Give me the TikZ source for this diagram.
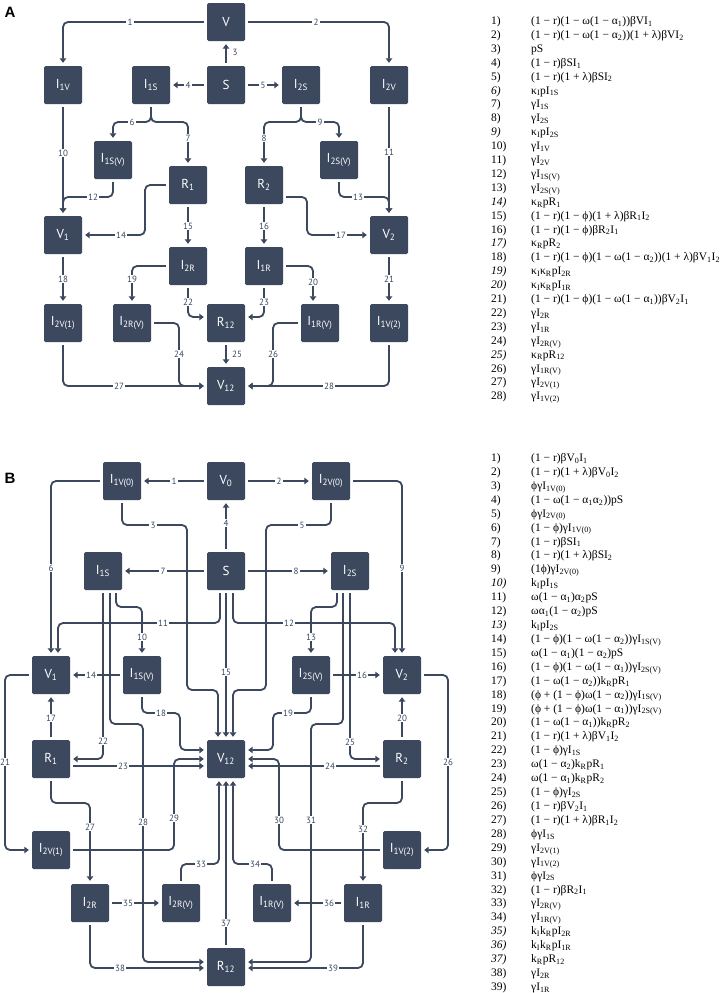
\documentclass[tikz,border=0pt]{standalone}
\usepackage{fontspec}
\setmainfont{Liberation Serif}
\newfontfamily\boxfont{PT Sans}
\newfontfamily\panelfont{Liberation Sans}
\usetikzlibrary{arrows.meta}
\definecolor{boxc}{RGB}{60,72,94}
\newcommand\dn[1]{\textsubscript{#1}}

\begin{document}
\begin{tikzpicture}[x=1pt,y=-1pt,
  box/.style={fill=boxc,text=white,minimum size=38pt,inner sep=0pt,rounded corners=1.5pt,font=\boxfont\fontsize{13}{15}\selectfont},
  flow/.style={draw=boxc,line width=1.8pt,rounded corners=5pt,shorten <=3pt,shorten >=3pt,-{Triangle[length=4.5pt,width=6.5pt]}},
  num/.style={fill=white,text=boxc,inner sep=1.2pt,font=\boxfont\fontsize{9}{10}\selectfont},
  row/.style={anchor=west,inner sep=0pt,text height=7pt,text depth=2pt,font=\fontsize{11.5}{13}\selectfont},
  panel/.style={font=\panelfont\bfseries\fontsize{15}{17}\selectfont}]
\useasboundingbox (0,0) rectangle (726,993);

\node[panel] (pA) at (10,12) {A};
\node[box] (V) at (226,22) {V};
\node[box] (I1V) at (63,85) {I\dn{1V}};
\node[box] (I1S) at (151,85) {I\dn{1S}};
\node[box] (S) at (226,85) {S};
\node[box] (I2S) at (301,85) {I\dn{2S}};
\node[box] (I2V) at (389,85) {I\dn{2V}};
\node[box] (I1SV) at (113,160) {I\dn{1S(V)}};
\node[box] (R1) at (188,185) {R\dn{1}};
\node[box] (R2) at (264,185) {R\dn{2}};
\node[box] (I2SV) at (339,160) {I\dn{2S(V)}};
\node[box] (V1) at (63,235) {V\dn{1}};
\node[box] (V2) at (389,235) {V\dn{2}};
\node[box] (I2R) at (188,266) {I\dn{2R}};
\node[box] (I1R) at (264,266) {I\dn{1R}};
\node[box] (I2V1) at (63,323) {I\dn{2V(1)}};
\node[box] (I2RV) at (132,323) {I\dn{2R(V)}};
\node[box] (R12) at (226,323) {R\dn{12}};
\node[box] (I1RV) at (320,323) {I\dn{1R(V)}};
\node[box] (I1V2) at (389,323) {I\dn{1V(2)}};
\node[box] (V12) at (226,386) {V\dn{12}};

\draw[flow] (V.west) -| (I1V.north);
\draw[flow] (V.east) -| (I2V.north);
\draw[flow] (S.north) -- (V.south);
\draw[flow] (S.west) -- (I1S.east);
\draw[flow] (S.east) -- (I2S.west);
\draw[flow] (I1S.south) |- (132,122) -| (I1SV.north);
\draw[flow] (I1S.south) |- (170,122) -| (R1.north);
\draw[flow] (I2S.south) |- (282,122) -| (R2.north);
\draw[flow] (I2S.south) |- (320,122) -| (I2SV.north);
\draw[flow] (I1V.south) -- (V1.north);
\draw[flow] (I2V.south) -- (V2.north);
\draw[flow] (I1SV.south) |- (90,197) -| (V1.north);
\draw[flow] (I2SV.south) |- (365,197) -| (V2.north);
\draw[flow] (R1.west) -| (145,235) -- (V1.east);
\draw[flow] (R1.south) -- (I2R.north);
\draw[flow] (R2.south) -- (I1R.north);
\draw[flow] ([yshift=-12pt]R2.east) -| (307,235) -- (V2.west);
\draw[flow] (V1.south) -- (I2V1.north);
\draw[flow] (I2R.west) -| (I2RV.north);
\draw[flow] (I1R.east) -| ([xshift=-7pt]I1RV.north);
\draw[flow] (V2.south) -- (I1V2.north);
\draw[flow] (I2R.south) |- ([yshift=6pt]R12.west);
\draw[flow] (I1R.south) |- ([yshift=6pt]R12.east);
\draw[flow] (I2RV.east) -| (179,386) -- (V12.west);
\draw[flow] (R12.south) -- (V12.north);
\draw[flow] (I1RV.west) -| (273,386) -- (V12.east);
\draw[flow] (I2V1.south) |- (V12.west);
\draw[flow] (I1V2.south) |- (V12.east);

\foreach \n/\x/\y in {1/130/22,2/316/22,4/188/85,5/263/85,6/132/122,7/188/138,8/264/138,9/320/122,
  10/63/153,11/389/152,12/93/197,13/358/197,14/121/235,15/188/226,16/264/226,17/341/235,18/63/279,
  19/132/279,20/313/282,21/389/279,22/188/302,23/264/302,24/179/354,26/273/354,27/119/386,28/329/386}
  \node[num] (la\n) at (\x,\y) {\n};
\node[num] (la3) at (235,52) {3};
\node[num] (la25) at (237,354) {25};

\node[panel] (pB) at (10,478) {B};
\node[box] (V0) at (226,481) {V\dn{0}};
\node[box] (I1V0) at (122,481) {I\dn{1V(0)}};
\node[box] (I2V0) at (331,481) {I\dn{2V(0)}};
\node[box] (I1Sb) at (103,571) {I\dn{1S}};
\node[box] (Sb) at (226,571) {S};
\node[box] (I2Sb) at (350,571) {I\dn{2S}};
\node[box] (V1b) at (51,675) {V\dn{1}};
\node[box] (I1SVb) at (142,675) {I\dn{1S(V)}};
\node[box] (I2SVb) at (311,675) {I\dn{2S(V)}};
\node[box] (V2b) at (402,675) {V\dn{2}};
\node[box] (R1b) at (51,759) {R\dn{1}};
\node[box] (V12b) at (226,759) {V\dn{12}};
\node[box] (R2b) at (402,759) {R\dn{2}};
\node[box] (I2V1b) at (51,850) {I\dn{2V(1)}};
\node[box] (I1V2b) at (402,850) {I\dn{1V(2)}};
\node[box] (I2Rb) at (90,903) {I\dn{2R}};
\node[box] (I2RVb) at (181,903) {I\dn{2R(V)}};
\node[box] (I1RVb) at (272,903) {I\dn{1R(V)}};
\node[box] (I1Rb) at (363,903) {I\dn{1R}};
\node[box] (R12b) at (226,967) {R\dn{12}};

\draw[flow] (V0.west) -- (I1V0.east);
\draw[flow] (V0.east) -- (I2V0.west);
\draw[flow] (I1V0.south) |- (187,525) -- (187,690) -| ([xshift=-8pt]V12b.north);
\draw[flow] (Sb.north) -- (V0.south);
\draw[flow] (I2V0.south) |- (266,525) -- (266,690) -| ([xshift=7pt]V12b.north);
\draw[flow] (I1V0.west) -| (V1b.north);
\draw[flow] (Sb.west) -- (I1Sb.east);
\draw[flow] (Sb.east) -- (I2Sb.west);
\draw[flow] (I2V0.east) -| (V2b.north);
\draw[flow] ([xshift=13pt]I1Sb.south) |- (130,607) -| (I1SVb.north);
\draw[flow] ([xshift=-6pt]Sb.south) |- (100,623) -| ([xshift=7pt]V1b.north);
\draw[flow] ([xshift=7pt]Sb.south) |- (350,623) -| ([xshift=-7pt]V2b.north);
\draw[flow] ([xshift=-13pt]I2Sb.south) |- (320,607) -| (I2SVb.north);
\draw[flow] (I1SVb.west) -- (V1b.east);
\draw[flow] (Sb.south) -- (V12b.north);
\draw[flow] (I2SVb.east) -- (V2b.west);
\draw[flow] (R1b.north) -- (V1b.south);
\draw[flow] (I1SVb.south) |- (160,713) -| (180,740) |- ([yshift=9pt]V12b.west);
\draw[flow] (I2SVb.south) |- (290,713) -| (273,740) |- ([yshift=9pt]V12b.east);
\draw[flow] (R2b.north) -- (V2b.south);
\draw[flow] (V1b.west) -| (5,760) |- (I2V1b.west);
\draw[flow] (I1Sb.south) |- (R1b.east);
\draw[flow] ([yshift=-7pt]R1b.east) -- ([yshift=-7pt]V12b.west);
\draw[flow] ([yshift=-7pt]R2b.west) -- ([yshift=-7pt]V12b.east);
\draw[flow] (I2Sb.south) |- (R2b.west);
\draw[flow] (V2b.east) -| (448,760) |- (I1V2b.east);
\draw[flow] (R1b.south) |- (70,803) -| (I2Rb.north);
\draw[flow] ([xshift=7pt]I1Sb.south) |- (125,724) -| (143,800) |- ([yshift=5pt]R12b.west);
\draw[flow] (I2V1b.east) -| (174,800) |- (V12b.west);
\draw[flow] (I1V2b.west) -| (279,800) |- (V12b.east);
\draw[flow] ([xshift=-7pt]I2Sb.south) |- (330,724) -| (311,800) |- ([yshift=5pt]R12b.east);
\draw[flow] (R2b.south) |- (380,803) -| (I1Rb.north);
\draw[flow] (I2RVb.north) |- (200,864) -| ([xshift=-7pt]V12b.south);
\draw[flow] (I1RVb.north) |- (250,864) -| ([xshift=7pt]V12b.south);
\draw[flow] (I2Rb.east) -- (I2RVb.west);
\draw[flow] (I1Rb.west) -- (I1RVb.east);
\draw[flow] (R12b.north) -- (V12b.south);
\draw[flow] (I2Rb.south) |- ([yshift=-1pt]R12b.west);
\draw[flow] (I1Rb.south) |- ([yshift=-1pt]R12b.east);

\foreach \n/\x/\y in {1/174/481,2/279/481,3/153/525,4/226/523,5/302/525,6/51/568,7/163/571,8/296/571,
  9/402/568,10/142/637,11/163/623,12/289/623,13/311/637,14/91/675,15/226/672,16/362/675,17/51/718,
  18/161/713,19/288/713,20/402/718,21/5/762,22/103/741,23/123/766,24/330/766,25/350/742,26/448/762,
  27/90/827,28/143/822,29/174/818,30/279/820,31/311/820,32/363/829,33/201/864,34/255/864,
  35/128/903,36/329/903,37/226/923,38/120/968,39/333/968}
  \node[num] (lb\n) at (\x,\y) {\n};

\foreach \n/\t [count=\i] in {
  1)/{(1 − r)(1 − ω(1 − α\dn{1}))βVI\dn{1}},
  2)/{(1 − r)(1 − ω(1 − α\dn{2}))(1 + λ)βVI\dn{2}},
  3)/{pS},
  4)/{(1 − r)βSI\dn{1}},
  5)/{(1 − r)(1 + λ)βSI\dn{2}},
  \textit{6)}/{κ\dn{I}pI\dn{1S}},
  7)/{γI\dn{1S}},
  8)/{γI\dn{2S}},
  \textit{9)}/{κ\dn{I}pI\dn{2S}},
  10)/{γI\dn{1V}},
  11)/{γI\dn{2V}},
  12)/{γI\dn{1S(V)}},
  13)/{γI\dn{2S(V)}},
  \textit{14)}/{κ\dn{R}pR\dn{1}},
  15)/{(1 − r)(1 − ϕ)(1 + λ)βR\dn{1}I\dn{2}},
  16)/{(1 − r)(1 − ϕ)βR\dn{2}I\dn{1}},
  \textit{17)}/{κ\dn{R}pR\dn{2}},
  18)/{(1 − r)(1 − ϕ)(1 − ω(1 − α\dn{2}))(1 + λ)βV\dn{1}I\dn{2}},
  \textit{19)}/{κ\dn{I}κ\dn{R}pI\dn{2R}},
  \textit{20)}/{κ\dn{I}κ\dn{R}pI\dn{1R}},
  21)/{(1 − r)(1 − ϕ)(1 − ω(1 − α\dn{1}))βV\dn{2}I\dn{1}},
  22)/{γI\dn{2R}},
  23)/{γI\dn{1R}},
  24)/{γI\dn{2R(V)}},
  \textit{25)}/{κ\dn{R}pR\dn{12}},
  26)/{γI\dn{1R(V)}},
  27)/{γI\dn{2V(1)}},
  28)/{γI\dn{1V(2)}}}
  \node[row] (ra\i) at (491,{22+13.9*(\i-1)}) {\makebox[40pt][l]{\n}\t};

\foreach \n/\t [count=\i] in {
  1)/{(1 − r)βV\dn{0}I\dn{1}},
  2)/{(1 − r)(1 + λ)βV\dn{0}I\dn{2}},
  3)/{ϕγI\dn{1V(0)}},
  4)/{(1 − ω(1 − α\dn{1}α\dn{2}))pS},
  5)/{ϕγI\dn{2V(0)}},
  6)/{(1 − ϕ)γI\dn{1V(0)}},
  7)/{(1 − r)βSI\dn{1}},
  8)/{(1 − r)(1 + λ)βSI\dn{2}},
  9)/{(1ϕ)γI\dn{2V(0)}},
  \textit{10)}/{k\dn{I}pI\dn{1S}},
  11)/{ω(1 − α\dn{1})α\dn{2}pS},
  12)/{ωα\dn{1}(1 − α\dn{2})pS},
  \textit{13)}/{k\dn{I}pI\dn{2S}},
  14)/{(1 − ϕ)(1 − ω(1 − α\dn{2}))γI\dn{1S(V)}},
  15)/{ω(1 − α\dn{1})(1 − α\dn{2})pS},
  16)/{(1 − ϕ)(1 − ω(1 − α\dn{1}))γI\dn{2S(V)}},
  17)/{(1 − ω(1 − α\dn{2}))k\dn{R}pR\dn{1}},
  18)/{(ϕ + (1 − ϕ)ω(1 − α\dn{2}))γI\dn{1S(V)}},
  19)/{(ϕ + (1 − ϕ)ω(1 − α\dn{1}))γI\dn{2S(V)}},
  20)/{(1 − ω(1 − α\dn{1}))k\dn{R}pR\dn{2}},
  21)/{(1 − r)(1 + λ)βV\dn{1}I\dn{2}},
  22)/{(1 − ϕ)γI\dn{1S}},
  23)/{ω(1 − α\dn{2})k\dn{R}pR\dn{1}},
  24)/{ω(1 − α\dn{1})k\dn{R}pR\dn{2}},
  25)/{(1 − ϕ)γI\dn{2S}},
  26)/{(1 − r)βV\dn{2}I\dn{1}},
  27)/{(1 − r)(1 + λ)βR\dn{1}I\dn{2}},
  28)/{ϕγI\dn{1S}},
  29)/{γI\dn{2V(1)}},
  30)/{γI\dn{1V(2)}},
  31)/{ϕγI\dn{2S}},
  32)/{(1 − r)βR\dn{2}I\dn{1}},
  33)/{γI\dn{2R(V)}},
  34)/{γI\dn{1R(V)}},
  \textit{35)}/{k\dn{I}k\dn{R}pI\dn{2R}},
  \textit{36)}/{k\dn{I}k\dn{R}pI\dn{1R}},
  \textit{37)}/{k\dn{R}pR\dn{12}},
  38)/{γI\dn{2R}},
  39)/{γI\dn{1R}}}
  \node[row] (rb\i) at (491,{459+13.92*(\i-1)}) {\makebox[40pt][l]{\n}\t};
\end{tikzpicture}
\end{document}
